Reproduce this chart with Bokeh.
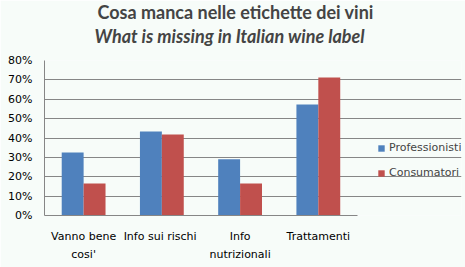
from bokeh.plotting import figure
from bokeh.models import (Legend, LegendItem, NumeralTickFormatter, Title, FixedTicker,
                          LinearAxis)
from bokeh.transform import dodge
from bokeh.embed import file_html
from bokeh.resources import INLINE

categories = ["Vanno bene cosi'", "Info sui  rischi", "Info nutrizionali", "Trattamenti"]
label_line1 = ["Vanno bene", "Info sui  rischi", "Info", "Trattamenti"]
label_line2 = ["cosi'", "", "nutrizionali", ""]
professionisti = [0.325, 0.434, 0.29, 0.573]
consumatori = [0.165, 0.418, 0.165, 0.712]
series_names = ["Professionisti", "Consumatori"]
y_ticks = [0, 0.1, 0.2, 0.3, 0.4, 0.5, 0.6, 0.7, 0.8]

BG = "#F7FCF9"
BLUE = "#4F81BD"
RED = "#C0504D"
GRID = "#868686"

n = len(categories)
centers = [i + 0.5 for i in range(n)]
x_end = n * 5.33 / 4  # extra room on the right for the legend

p = figure(width=465, height=267, x_range=(0, x_end), y_range=(0, 0.8),
           output_backend="svg", toolbar_location=None,
           min_border_left=44, min_border_top=0, min_border_bottom=52, min_border_right=4)
p.background_fill_color = BG
p.border_fill_color = BG
p.outline_line_color = None

src = dict(x=centers, pro=professionisti, con=consumatori)
r1 = p.vbar(x=dodge("x", -0.14), top="pro", width=0.28, source=src, fill_color=BLUE, line_color=None)
r2 = p.vbar(x=dodge("x", 0.14), top="con", width=0.28, source=src, fill_color=RED, line_color=None)

p.title.text = "Cosa manca nelle etichette dei vini"
p.title.text_font = "Lato"
p.title.text_font_style = "bold"
p.title.text_font_size = "18px"
p.title.align = "left"
p.title.vertical_align = "top"
p.title.offset = 53
p.title.standoff = 0
spacer = Title(text=" ", text_font_size="9px", standoff=0)
p.add_layout(spacer, "above")
t2 = Title(text="What is missing in Italian wine label", text_font="Lato",
           text_font_style="bold italic", text_font_size="18px", align="left", offset=50,
           vertical_align="top", standoff=0)
p.add_layout(t2, "above")

p.yaxis.ticker = FixedTicker(ticks=y_ticks)
p.yaxis.formatter = NumeralTickFormatter(format="0%")
p.yaxis.major_tick_line_color = None
p.yaxis.minor_tick_line_color = None
p.yaxis.major_tick_out = 0
p.yaxis.axis_line_color = GRID
p.yaxis.major_label_text_font = "DejaVu Sans"
p.yaxis.major_label_text_font_size = "11px"
p.yaxis.major_label_text_color = "#000000"
p.yaxis.major_label_standoff = 12

xa = p.xaxis[0]
xa.ticker = FixedTicker(ticks=centers)
xa.major_label_overrides = {c: l for c, l in zip(centers, label_line1)}
xa.major_tick_line_color = None
xa.minor_tick_line_color = None
xa.major_tick_out = 0
xa.major_tick_in = 0
xa.axis_line_color = GRID
xa.bounds = (0, n)
xa.major_label_text_font = "DejaVu Sans"
xa.major_label_text_font_size = "11px"
xa.major_label_text_color = "#000000"
xa.major_label_standoff = 14

xa2 = LinearAxis(ticker=FixedTicker(ticks=centers),
                 major_label_overrides={c: l for c, l in zip(centers, label_line2)},
                 major_tick_line_color=None, minor_tick_line_color=None,
                 major_tick_out=0, major_tick_in=0,
                 axis_line_color=None, major_label_text_font="DejaVu Sans",
                 major_label_text_font_size="11px", major_label_text_color="#000000",
                 major_label_standoff=2)
p.add_layout(xa2, "below")

p.xgrid.grid_line_color = None
p.ygrid.grid_line_color = GRID
p.ygrid.grid_line_width = 1
p.ygrid.bounds = (0, n)

legend = Legend(items=[LegendItem(label=series_names[0], renderers=[r1]),
                       LegendItem(label=series_names[1], renderers=[r2])],
                glyph_width=8, glyph_height=8, label_text_font="DejaVu Sans",
                label_text_font_size="11px", label_height=13, label_standoff=4,
                spacing=12, background_fill_alpha=0,
                border_line_color=None, margin=0, padding=0, location=(333, 36))
p.add_layout(legend)

open("out.html", "w").write(file_html(p, INLINE))
